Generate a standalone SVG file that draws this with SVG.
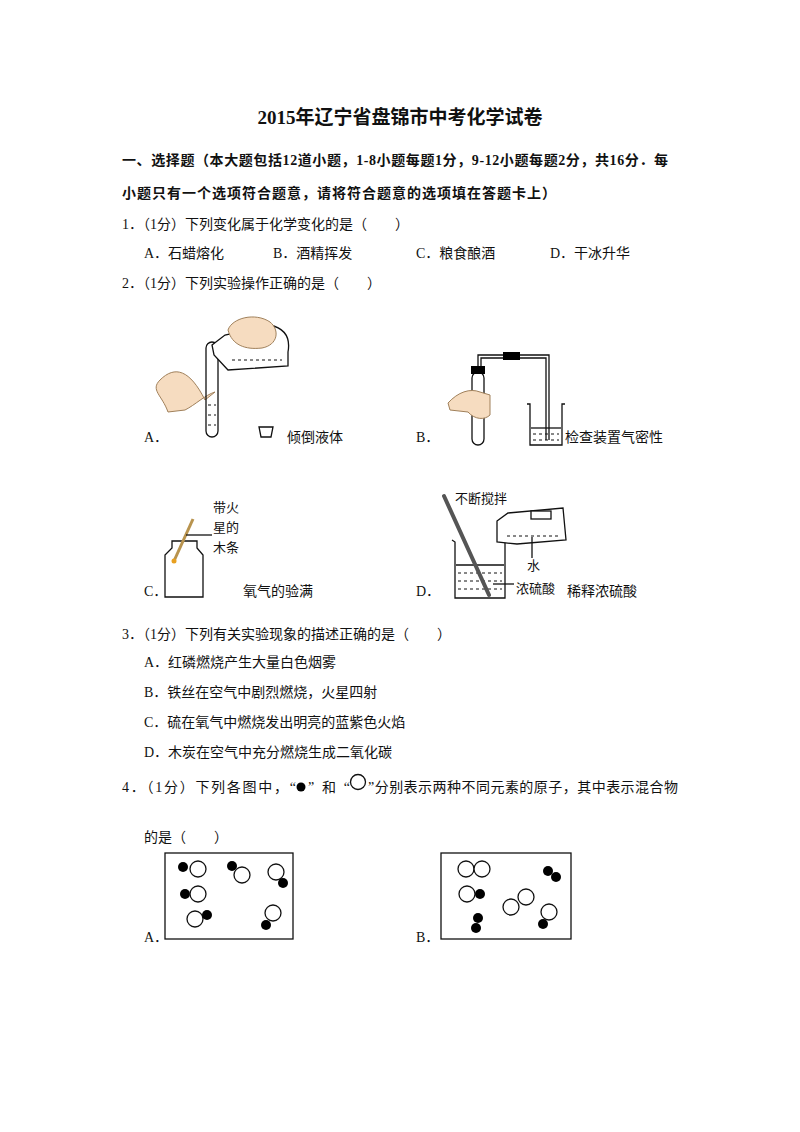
<svg xmlns="http://www.w3.org/2000/svg" width="800" height="1132" viewBox="0 0 800 1132">
<style>
text{font-family:"Liberation Serif","Noto Sans CJK SC",serif;font-size:14px;fill:#111}
.b{font-weight:bold}
.s{font-family:"Liberation Sans","Noto Sans CJK SC",sans-serif;font-size:13px}
.ln{fill:none;stroke:#111;stroke-width:1.3}
.o{fill:#fff;stroke:#111;stroke-width:1.3}
.f{fill:#000}
.hand{fill:#f6dcc0;stroke:#a0805a;stroke-width:1}
.liq{stroke:#111;stroke-width:1;stroke-dasharray:3 3}
</style>
<rect width="800" height="1132" fill="#fff"/>
<g id="text">
<text x="400" y="124" text-anchor="middle" class="b" style="font-size:19px">2015年辽宁省盘锦市中考化学试卷</text>
<text x="122" y="165" class="b" textLength="546">一、选择题（本大题包括12道小题，1-8小题每题1分，9-12小题每题2分，共16分．每</text>
<text x="122" y="198" class="b" textLength="434">小题只有一个选项符合题意，请将符合题意的选项填在答题卡上）</text>
<text x="122" y="229">1．（1分）下列变化属于化学变化的是（　　）</text>
<text x="144" y="258">A．石蜡熔化</text>
<text x="273" y="258">B．酒精挥发</text>
<text x="416" y="258">C．粮食酿酒</text>
<text x="550" y="258">D．干冰升华</text>
<text x="122" y="288">2．（1分）下列实验操作正确的是（　　）</text>
<text x="144" y="442">A．</text>
<text x="287" y="442">倾倒液体</text>
<text x="416" y="442">B．</text>
<text x="565" y="442">检查装置气密性</text>
<text x="144" y="596">C．</text>
<text x="243" y="596">氧气的验满</text>
<text x="416" y="596">D．</text>
<text x="567" y="596">稀释浓硫酸</text>
<text x="213" y="512" class="s">带火</text>
<text x="213" y="532" class="s">星的</text>
<text x="213" y="552" class="s">木条</text>
<text x="455" y="503" class="s">不断搅拌</text>
<text x="527" y="570" class="s">水</text>
<text x="516" y="593" class="s">浓硫酸</text>
<text x="122" y="639">3．（1分）下列有关实验现象的描述正确的是（　　）</text>
<text x="144" y="667">A．红磷燃烧产生大量白色烟雾</text>
<text x="144" y="697">B．铁丝在空气中剧烈燃烧，火星四射</text>
<text x="144" y="727">C．硫在氧气中燃烧发出明亮的蓝紫色火焰</text>
<text x="144" y="757">D．木炭在空气中充分燃烧生成二氧化碳</text>
<text x="122" y="792" textLength="174">4．（1分）下列各图中，“</text>
<text x="308" y="792" textLength="42">”和“</text>
<text x="368" y="792" textLength="310">”分别表示两种不同元素的原子，其中表示混合物</text>
<text x="144" y="842">的是（　　）</text>
<text x="144" y="942">A．</text>
<text x="416" y="942">B．</text>
</g>
<g id="q4-symbols">
<circle cx="301" cy="787" r="4.5" class="f"/>
<circle cx="358" cy="782" r="7.5" class="o"/>
</g>
<g id="figA">
<path d="M205,400 C190,370 175,365 160,380 C150,390 162,395 168,412 L185,410 C195,405 205,395 215,392 Z" class="hand"/>
<rect x="206" y="342" width="12" height="95" rx="6" class="o" style="fill:none"/>
<line x1="208" y1="405" x2="216" y2="405" class="liq"/>
<line x1="208" y1="415" x2="216" y2="415" class="liq"/>
<line x1="208" y1="425" x2="216" y2="425" class="liq"/>
<path d="M212,345 L225,335 L270,325 Q292,330 288,352 L288,366 L228,370 L214,355 Z" class="o"/>
<line x1="232" y1="360" x2="282" y2="360" class="liq"/>
<path d="M228,330 C232,318 255,312 270,322 C280,330 278,345 262,348 C245,350 232,345 228,330 Z" class="hand"/>
<path d="M259,427 L273,427 L271,437 L261,437 Z" class="o"/>
</g>
<g id="figB">
<rect x="472" y="372" width="12" height="73" rx="6" class="o"/>
<rect x="471" y="366" width="14" height="8" class="f"/>
<path d="M478,366 L478,355 L549,355 L549,440" class="ln"/>
<path d="M481,366 L481,358 L546,358 L546,440" class="ln"/>
<rect x="503" y="352" width="17" height="8" class="f"/>
<path d="M448,403 C458,392 470,388 480,392 L490,395 L490,415 C485,420 475,420 468,412 L450,410 Z" class="hand"/>
<path d="M527,404 L530,404 L530,445 L562,445 L562,404 L565,404" class="ln"/>
<line x1="531" y1="428" x2="561" y2="428" class="ln"/>
<line x1="533" y1="434" x2="559" y2="434" class="liq"/>
<line x1="533" y1="440" x2="559" y2="440" class="liq"/>
</g>
<g id="figC">
<path d="M165,597 L165,555 L172,548 L172,541 L197,541 L197,548 L203,555 L203,597 Z" class="ln"/>
<line x1="193" y1="519" x2="174" y2="561" stroke="#b8934e" stroke-width="3"/>
<circle cx="174" cy="561" r="2.5" fill="#e8a020"/>
<line x1="186" y1="535" x2="212" y2="535" class="ln"/>
</g>
<g id="figD">
<path d="M452,540 L455,542 L455,598 L505,598 L505,542 L508,540" class="ln"/>
<line x1="456" y1="565" x2="504" y2="565" class="ln"/>
<line x1="458" y1="573" x2="502" y2="573" class="liq"/>
<line x1="458" y1="581" x2="502" y2="581" class="liq"/>
<line x1="458" y1="589" x2="502" y2="589" class="liq"/>
<line x1="444" y1="496" x2="489" y2="595" stroke="#555" stroke-width="4" stroke-linecap="round"/>
<path d="M497,521 L508,513 L563,508 L566,540 L517,544 L497,542 Z" class="o"/>
<rect x="531" y="511" width="20" height="8" class="o"/>
<line x1="507" y1="536" x2="560" y2="536" class="liq"/>
<line x1="532" y1="537" x2="532" y2="558" class="ln"/>
<line x1="493" y1="584" x2="514" y2="584" class="ln"/>
</g>
<g id="q4A">
<rect x="165" y="853" width="128" height="86" class="ln"/>
<circle cx="183" cy="867" r="5" class="f"/><circle cx="198" cy="869" r="8" class="o"/>
<circle cx="232" cy="866" r="5" class="f"/><circle cx="242" cy="875" r="8" class="o"/>
<circle cx="276" cy="872" r="8" class="o"/><circle cx="283" cy="883" r="5" class="f"/>
<circle cx="185" cy="894" r="5" class="f"/><circle cx="198" cy="894" r="8" class="o"/>
<circle cx="195" cy="919" r="8" class="o"/><circle cx="207" cy="915" r="5" class="f"/>
<circle cx="273" cy="913" r="8" class="o"/><circle cx="266" cy="925" r="5" class="f"/>
</g>
<g id="q4B">
<rect x="441" y="853" width="130" height="86" class="ln"/>
<circle cx="466" cy="869" r="8" class="o"/><circle cx="482" cy="869" r="8" class="o"/>
<circle cx="548" cy="871" r="5" class="f"/><circle cx="556" cy="877" r="5" class="f"/>
<circle cx="467" cy="894" r="8" class="o"/><circle cx="480" cy="894" r="5" class="f"/>
<circle cx="526" cy="897" r="8" class="o"/><circle cx="511" cy="907" r="8" class="o"/>
<circle cx="549" cy="912" r="8" class="o"/><circle cx="543" cy="924" r="5" class="f"/>
<circle cx="478" cy="918" r="5" class="f"/><circle cx="476" cy="928" r="5" class="f"/>
</g>
</svg>
